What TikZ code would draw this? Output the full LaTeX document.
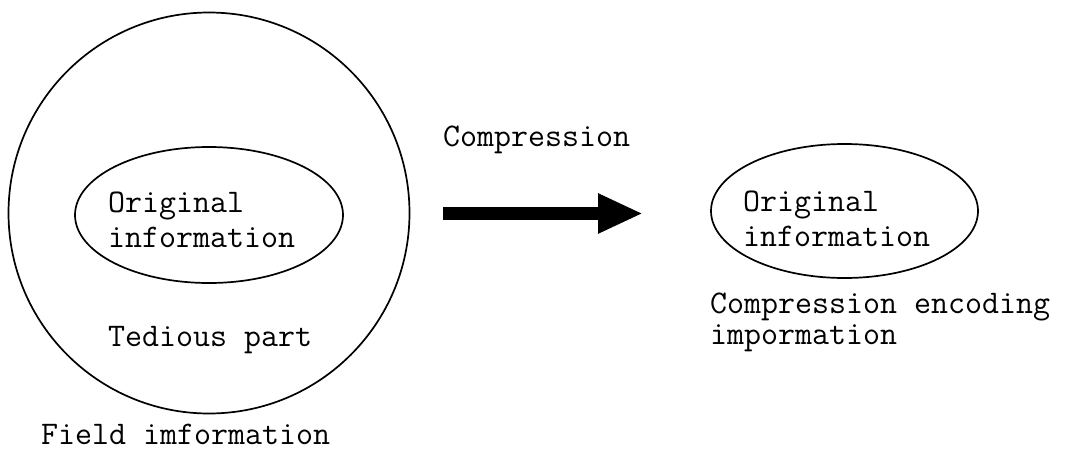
\documentclass[tikz,border=0pt]{standalone}
\usepackage{fontspec}
\usetikzlibrary{arrows.meta,shapes.geometric}
\begin{document}
\begin{tikzpicture}[x=1pt,y=-1pt,
  outline/.style={draw=black,line width=1.7pt},
  label/.style={anchor=base west,inner sep=0pt,align=left,
    font=\ttfamily\fontsize{33}{35}\selectfont},
  caption/.style={label,font=\ttfamily\fontsize{33}{31}\selectfont},
  bigarrow/.style={line width=13pt,-{Triangle[length=45pt,width=37pt]}}]
  \useasboundingbox (0,0) rectangle (1065,450);

  % field information: the whole circle
  \node[outline,circle,minimum size=401pt,inner sep=0pt] (field) at (209,213) {};
  % original information inside it
  \node[outline,ellipse,minimum width=268pt,minimum height=136pt,inner sep=0pt] (origL) at (209,215) {};
  \node[label] (origLtext) at (108,247) {Original\\information};
  \node[label] (tedious) at (108,346) {Tedious part};
  \node[label] (fieldtext) at (41,444) {Field imformation};

  % compression step
  \node[label] (comp) at (443,146) {Compression};
  \coordinate (arrowStart) at (443,213.5);
  \coordinate (arrowEnd) at (643,213.5);
  \draw[bigarrow] (arrowStart) -- (arrowEnd);

  % compressed result
  \node[outline,ellipse,minimum width=267pt,minimum height=134pt,inner sep=0pt] (origR) at (844.5,211) {};
  \node[label] (origRtext) at (743,246) {Original\\information};
  \node[caption] (encoded) at (710,344) {Compression encoding\\impormation};
\end{tikzpicture}
\end{document}
